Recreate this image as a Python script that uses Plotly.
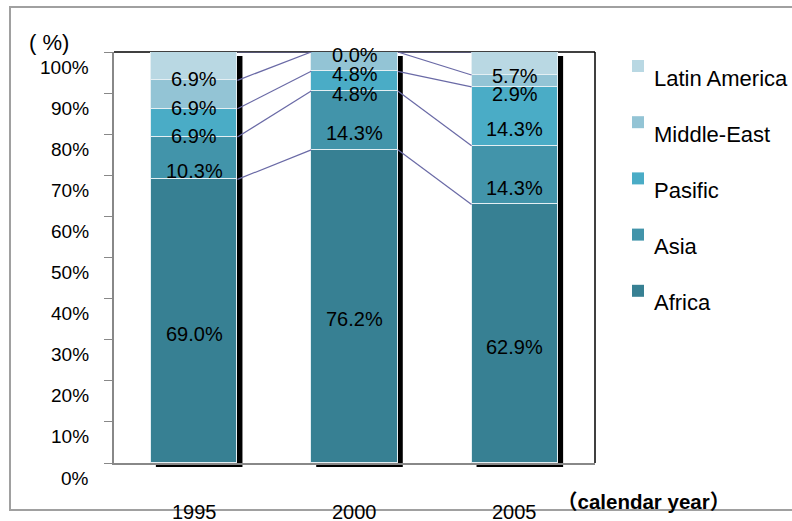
import plotly.graph_objects as go

years = ["1995", "2000", "2005"]
series_names = ["Africa", "Asia", "Pasific", "Middle-East", "Latin America"]
africa = [69.0, 76.2, 62.9]
asia = [10.3, 14.3, 14.3]
pasific = [6.9, 4.8, 14.3]
middle_east = [6.9, 4.8, 2.9]
latin_america = [6.9, 0.0, 5.7]
y_ticks = [0, 10, 20, 30, 40, 50, 60, 70, 80, 90, 100]

series_values = [africa, asia, pasific, middle_east, latin_america]
colors = ["#378093", "#4294aa", "#4aacc6", "#93c4d5", "#b9d8e3"]

W, H = 792, 521
L, R, T, B = 114, 197, 52, 58
PW, PH = W - L - R, H - T - B
YMIN, YMAX = 0, 100
BAR_W = 0.54
FONT = "Liberation Sans, Arial, sans-serif"

def px_x(px):
    return (px - L) / PW

def px_y(py):
    return (H - B - py) / PH

xs = list(range(len(years)))
fig = go.Figure()

# cumulative boundaries
cum = []
run = [0.0] * len(years)
for vals in series_values:
    bottoms = run[:]
    run = [r + v for r, v in zip(run, vals)]
    cum.append((bottoms, run[:]))

# series connector lines
for k, (bottoms, tops) in enumerate(cum):
    for i in range(len(years) - 1):
        fig.add_trace(go.Scatter(
            x=[xs[i] + BAR_W / 2, xs[i + 1] - BAR_W / 2],
            y=[min(tops[i], YMAX), min(tops[i + 1], YMAX)],
            mode="lines", line=dict(color="#6a6aa6", width=1.2),
            showlegend=False, hoverinfo="skip"))

# stacked bars
for name, vals, col in zip(series_names, series_values, colors):
    fig.add_trace(go.Bar(
        x=xs, y=vals, name=name, width=BAR_W,
        marker=dict(color=col, line=dict(color="#e4eff3", width=1.2)),
        showlegend=False, hoverinfo="skip"))

shapes = []
# outer chart frame
shapes.append(dict(type="rect", xref="paper", yref="paper",
                   x0=px_x(10), x1=px_x(800), y0=px_y(510), y1=px_y(7),
                   line=dict(color="#a0a0a0", width=2), layer="below"))
# plot-area top and right borders
shapes.append(dict(type="line", xref="paper", yref="paper", x0=0, x1=1, y0=1, y1=1,
                   line=dict(color="#000000", width=1.5), layer="below"))
shapes.append(dict(type="line", xref="paper", yref="paper", x0=1, x1=1, y0=0, y1=1,
                   line=dict(color="#000000", width=1.5), layer="below"))
# bar shadows
dx = 5 / PW * 3.0
for i in xs:
    total = cum[-1][1][i]
    shapes.append(dict(type="rect", xref="x", yref="paper",
                       x0=xs[i] - BAR_W / 2 + dx, x1=xs[i] + BAR_W / 2 + dx,
                       y0=-4 / PH, y1=(min(total, YMAX) - YMIN) / (YMAX - YMIN) - 4 / PH,
                       fillcolor="#000000", line=dict(width=0), layer="below"))

annotations = []
# data labels
for k, (bottoms, tops) in enumerate(cum):
    for i in xs:
        v = series_values[k][i]
        mid = (bottoms[i] + tops[i]) / 2
        annotations.append(dict(
            x=xs[i], y=min(mid, YMAX), xref="x", yref="y",
            xanchor="center", yanchor="middle",
            text=f"{v:.1f}%", showarrow=False,
            yshift=-13 if v > 0 else -3,
            font=dict(family=FONT, size=20, color="#000000")))

# y tick labels
for t in y_ticks:
    annotations.append(dict(
        x=0, y=t, xref="paper", yref="y", xanchor="right", yanchor="middle",
        xshift=-23, yshift=-15,
        text=f"{t}%", showarrow=False,
        font=dict(family=FONT, size=19, color="#000000")))

# x tick labels
for i in xs:
    annotations.append(dict(
        x=xs[i], y=0, xref="x", yref="y", xanchor="center", yanchor="middle",
        yshift=-49, text=years[i], showarrow=False,
        font=dict(family=FONT, size=20, color="#000000")))

annotations.append(dict(x=px_x(49), y=px_y(42), xref="paper", yref="paper",
                        xanchor="center", yanchor="middle",
                        text="( %)", showarrow=False,
                        font=dict(family=FONT, size=22, color="#000000")))
annotations.append(dict(x=px_x(643), y=px_y(501), xref="paper", yref="paper",
                        xanchor="center", yanchor="middle",
                        text="（calendar year）", showarrow=False,
                        font=dict(family="Liberation Sans, Noto Sans CJK JP, sans-serif",
                                  size=20.5, color="#000000", weight="bold")))

# manual legend
for j, (name, col) in enumerate(zip(series_names[::-1], colors[::-1])):
    top = 60 + j * 56.2
    shapes.append(dict(type="rect", xref="paper", yref="paper",
                       x0=px_x(632), x1=px_x(644), y0=px_y(top + 12), y1=px_y(top),
                       fillcolor=col, line=dict(width=0)))
    annotations.append(dict(x=px_x(652), y=px_y(top + 18), xref="paper", yref="paper",
                            xanchor="left", yanchor="middle", text=name, showarrow=False,
                            font=dict(family=FONT, size=22, color="#000000")))

fig.update_layout(
    width=W, height=H, autosize=False,
    margin=dict(l=L, r=R, t=T, b=B, pad=0, autoexpand=False),
    barmode="stack", bargap=0,
    plot_bgcolor="white", paper_bgcolor="white",
    showlegend=False,
    shapes=shapes, annotations=annotations,
    xaxis=dict(range=[-0.5, 2.5], tickvals=xs, showticklabels=False, ticks="",
               showline=True, linecolor="#888888", linewidth=2, automargin=False,
               showgrid=False, zeroline=False),
    yaxis=dict(range=[YMIN, YMAX], tickvals=y_ticks, showticklabels=False,
               ticks="outside", ticklen=8, tickcolor="#888888", tickwidth=1,
               showline=True, linecolor="#888888", linewidth=2, automargin=False,
               showgrid=False, zeroline=False),
)

fig.write_html("out.html")
